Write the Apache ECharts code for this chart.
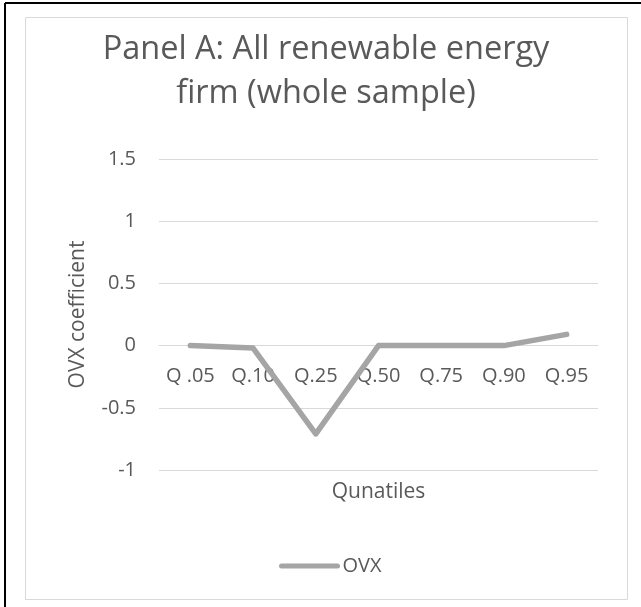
<!DOCTYPE html>
<html>
<head>
<meta charset="utf-8">
<title>Panel A: All renewable energy firm (whole sample)</title>
<script src="https://cdn.jsdelivr.net/npm/echarts@6/dist/echarts.min.js"></script>
<style>
  html, body { margin: 0; padding: 0; background: #ffffff; }
  #chart { width: 641px; height: 607px; }
</style>
</head>
<body>
<div id="chart"></div>
<script>
// Quantile regression coefficients of OVX across quantiles
const quantiles = ['Q .05', 'Q.10', 'Q.25', 'Q.50', 'Q.75', 'Q.90', 'Q.95'];
const ovxCoefficients = [0, -0.02, -0.71, 0, 0, 0, 0.09];
const yTicks = { min: -1, max: 1.5, step: 0.5 };

const textColor = '#595959';
const gridColor = '#D9D9D9';
const lineColor = '#A5A5A5';
const fontFamily = '"Open Sans", "Noto Sans", sans-serif';

const chart = echarts.init(document.getElementById('chart'), null, { renderer: 'canvas' });

chart.setOption({
  backgroundColor: '#ffffff',
  animation: false,
  textStyle: { fontFamily: fontFamily },
  graphic: [
    // outer frame edges
    { type: 'line', shape: { x1: 5, y1: 3, x2: 5, y2: 607 }, style: { stroke: '#000000', lineWidth: 2 } },
    { type: 'line', shape: { x1: 5, y1: 3, x2: 641, y2: 3 }, style: { stroke: '#000000', lineWidth: 2 } },
    // chart area border
    { type: 'rect', shape: { x: 25.5, y: 17.5, width: 602, height: 582 }, style: { fill: 'none', stroke: '#D9D9D9', lineWidth: 1 } }
  ],
  title: {
    text: 'Panel A: All renewable energy\nfirm (whole sample)',
    left: 326,
    top: 28,
    padding: 0,
    textAlign: 'center',
    textStyle: {
      color: textColor,
      fontSize: 32.5,
      fontWeight: 'normal',
      lineHeight: 44,
      fontFamily: fontFamily
    }
  },
  legend: {
    data: ['OVX'],
    left: 274,
    top: 551,
    itemWidth: 56,
    itemHeight: 22,
    itemGap: 10,
    itemStyle: { opacity: 0 },
    lineStyle: { width: 5, cap: 'round', color: lineColor },
    textStyle: { color: textColor, fontSize: 20, fontFamily: fontFamily }
  },
  grid: {
    left: 159, right: 43, top: 159, bottom: 137,
    containLabel: false,
    outerBoundsMode: 'none'
  },
  xAxis: {
    type: 'category',
    data: quantiles,
    boundaryGap: true,
    name: 'Qunatiles',
    nameLocation: 'middle',
    nameGap: 136,
    nameTextStyle: { color: textColor, fontSize: 21, fontFamily: fontFamily },
    axisLine: { onZero: false, lineStyle: { color: gridColor, width: 1 } },
    axisTick: { show: false },
    axisLabel: { color: textColor, fontSize: 20, margin: 21, interval: 0, fontFamily: fontFamily },
    splitLine: { show: false }
  },
  yAxis: {
    type: 'value',
    min: yTicks.min,
    max: yTicks.max,
    interval: yTicks.step,
    name: 'OVX coefficient',
    nameLocation: 'middle',
    nameRotate: 90,
    nameGap: 70,
    nameTextStyle: { color: textColor, fontSize: 21, fontFamily: fontFamily },
    axisLine: { show: false },
    axisTick: { show: false },
    axisLabel: { color: textColor, fontSize: 20, margin: 23, fontFamily: fontFamily },
    splitLine: { show: true, lineStyle: { color: gridColor, width: 1 } }
  },
  series: [{
    name: 'OVX',
    type: 'line',
    data: ovxCoefficients,
    symbol: 'none',
    lineStyle: { color: lineColor, width: 5.5, cap: 'round', join: 'round' },
    itemStyle: { color: lineColor }
  }]
});

// Place the category axis (labels and name) on the zero line of the value axis
const zeroPx = chart.convertToPixel({ yAxisIndex: 0 }, 0);
const bottomPx = chart.convertToPixel({ yAxisIndex: 0 }, yTicks.min);
chart.setOption({ xAxis: { offset: zeroPx - bottomPx } });
</script>
</body>
</html>
